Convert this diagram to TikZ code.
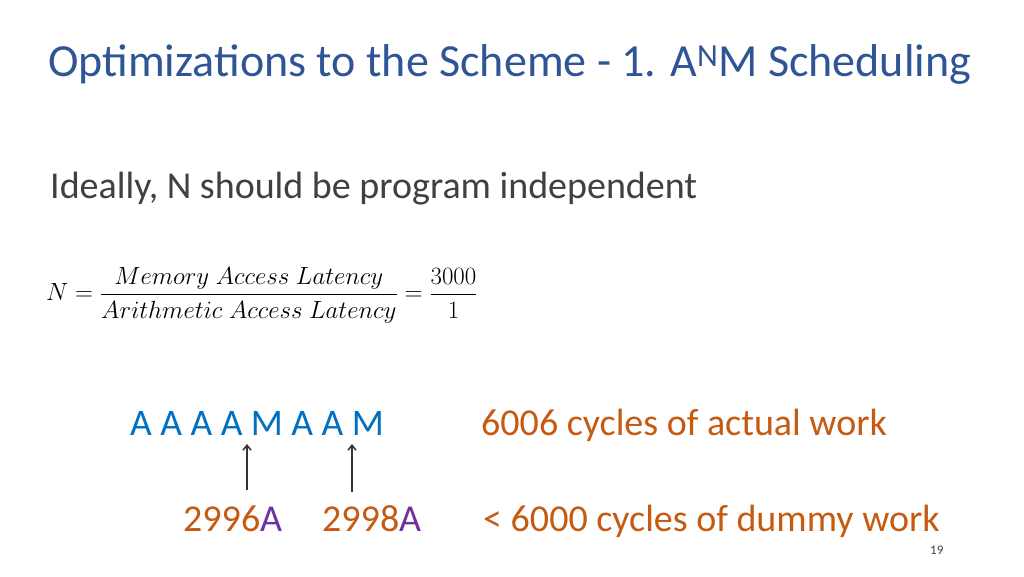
\documentclass[tikz,border=0pt]{standalone}
\usepackage{amsmath}
\usepackage{fontspec}
\setmainfont{Carlito}
\usetikzlibrary{arrows.meta}
\begin{document}
\begin{tikzpicture}[x=1pt,y=-1pt,
  txt/.style={inner sep=0pt,anchor=base west},
  arr/.style={-{Straight Barb[length=5pt,width=8pt]},line width=1.5pt,draw=black!80}]
\useasboundingbox[fill=white] (0,0) rectangle (1024,576);
\definecolor{ttl}{HTML}{2F5597}
\definecolor{blu}{HTML}{0070C0}
\definecolor{org}{HTML}{C55A11}
\definecolor{pur}{HTML}{7030A0}
\definecolor{gr}{HTML}{404040}
\node[txt,text=ttl,font=\fontsize{46}{50}\selectfont] (title) at (48,76) {Optimizations to the Scheme - 1. A\textsuperscript{N}M Scheduling};
\node[txt,text=gr,font=\fontsize{38}{42}\selectfont] (ideal) at (50,198) {Ideally, N should be program independent};
\node[anchor=west,inner sep=0pt,text=black,font=\fontsize{29.5}{34}\selectfont] (eq) at (46,295) {$N=\dfrac{Memory\ Access\ Latency}{Arithmetic\ Access\ Latency}=\dfrac{3000}{1}$};
\node[txt,text=blu,font=\fontsize{37.5}{42}\selectfont] (seq) at (130,435) {A A A A M A A M};
\node[txt,text=org,font=\fontsize{38}{42}\selectfont] (act) at (481,435) {6006 cycles of actual work};
\node[txt,text=org,font=\fontsize{38}{42}\selectfont] (n1) at (183,531) {2996\textcolor{pur}{A}};
\node[txt,text=org,font=\fontsize{38}{42}\selectfont] (n2) at (322,531) {2998\textcolor{pur}{A}};
\node[txt,text=org,font=\fontsize{38}{42}\selectfont] (dum) at (483,531) {< 6000 cycles of dummy work};
\node[txt,text=gr,font=\fontsize{13}{14}\selectfont] (pg) at (930,554) {19};
\coordinate (a1s) at (247,490); \coordinate (a1e) at (247,444);
\coordinate (a2s) at (352,492); \coordinate (a2e) at (352,444);
\draw[arr] (a1s) -- (a1e);
\draw[arr] (a2s) -- (a2e);
\end{tikzpicture}
\end{document}
